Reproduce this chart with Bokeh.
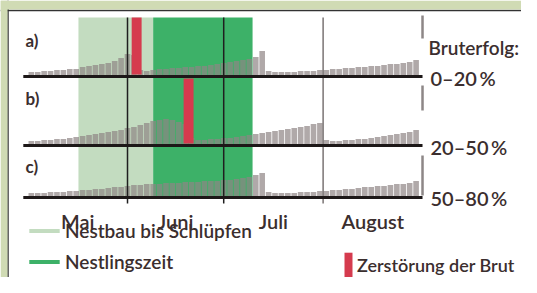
from bokeh.plotting import figure
from bokeh.models import Range1d, Label, Legend, LegendItem, Span, BoxAnnotation
from bokeh.embed import file_html
from bokeh.resources import INLINE

# ---------------- data ----------------
months = ["Mai", "Juni", "Juli", "August"]
month_start = [0, 31, 61, 92]          # day index (1 May = 0)
month_mid = [15.5, 46, 76.5, 107.5]
season_end = 123                        # 1 September

panel_names = ["a)", "b)", "c)"]
success_labels = ["0\u201320\u2009%", "20\u201350\u2009%", "50\u201380\u2009%"]

nestbau = [15.7, 39.0]     # Nestbau bis Schlüpfen (start, end day)
nestling = [39.0, 70.0]    # Nestlingszeit
destroy_start = [32.3, 48.5]
destroy_end = [35.4, 51.6]
destroy_panel = [0, 1]

activity_days = list(range(1, 122, 2))
activity_a = [3, 3, 4, 4, 5, 5, 6, 6,
              8, 9, 10, 11, 12, 14, 17,
              21, 20,
              5, 4, 5, 6, 6, 7, 7, 8, 8, 9, 9, 10, 11, 12, 13, 14, 15, 16, 18, 24,
              4, 3, 3, 3, 3, 4, 4, 4, 5,
              5, 6, 6, 7, 7, 8, 8, 9, 9, 10, 11, 11, 12, 13, 15]
activity_b = [3, 3, 4, 4, 5, 5, 6, 7, 8, 9, 10, 11, 12, 13, 14, 16, 17, 19, 21, 23, 24, 25, 24, 22, 20,
              6, 4, 4, 5, 5, 6, 6, 7, 8, 9, 10, 11, 12, 13, 14, 15, 16, 17, 18, 20, 21,
              4, 3, 3, 4, 4, 5, 5, 6, 7, 8, 9, 10, 11, 12, 14]
activity_c = [3, 3, 3, 4, 4, 4, 5, 5, 6, 6, 7, 7, 8, 9, 9, 10, 11, 11, 12, 12, 12, 13, 13, 13, 14,
              14, 14, 15, 15, 15, 16, 16, 17, 18, 19, 21, 23,
              4, 3, 3, 3, 3, 4, 4, 4, 5, 5, 6, 6, 7, 7, 8, 9, 9, 10, 10, 11, 12, 12, 13, 15]
activities = [activity_a, activity_b, activity_c]

# ---------------- layout (pixel-like units, y up) ----------------
W, H = 521, 277
X0, X1 = -8.61, 153.87
baseline_y = [201, 132, 80]
band_top = 260
red_top = [260, 199]
red_bottom = [203, 134]
end_tick = [(239, 262), (167, 192), (82, 122)]
label_y = [237, 179, 111]
success_y = [200, 131, 80]

TEXT = "#3b2e2e"
LIGHT = "#c3dcc0"
DARK = "#3db168"
RED = "#d53b4e"
NOISE = "#8e8585"
OUTER = "#d0dbb4"
FONT = "Lato Semibold, Lato"

p = figure(width=W, height=H, x_range=Range1d(X0, X1), y_range=Range1d(0, H),
           output_backend="svg", toolbar_location=None,
           x_axis_location=None, y_axis_location=None)
p.min_border = 0
p.grid.visible = False
p.outline_line_color = None
p.background_fill_color = "white"
p.border_fill_color = "white"

# outer frame: dark border + light green surround
p.add_layout(Span(location=267, dimension="width", line_color="#333333", line_width=1.5))
p.add_layout(Span(location=X0 + 7.5 / 3.2065, dimension="height", line_color="#333333", line_width=1.5))
p.add_layout(BoxAnnotation(bottom=268, fill_color=OUTER, fill_alpha=1, line_alpha=0))
p.add_layout(BoxAnnotation(right=X0 + 7 / 3.2065, fill_color=OUTER, fill_alpha=1, line_alpha=0))

# phase bands
r_light = p.quad(left=[nestbau[0]], right=[nestbau[1]], bottom=baseline_y[2], top=band_top,
                 fill_color=LIGHT, line_color=None)
r_dark = p.quad(left=[nestling[0]], right=[nestling[1]], bottom=baseline_y[2], top=band_top,
                fill_color=DARK, line_color=None)

# activity texture
for base, act in zip(baseline_y, activities):
    p.vbar(x=activity_days, width=1.75, bottom=base + 1.5, top=[base + 1.5 + h for h in act],
           fill_color=NOISE, fill_alpha=0.7, line_color=None)

# destruction bars
r_red = p.quad(left=destroy_start, right=destroy_end,
               bottom=[red_bottom[i] for i in destroy_panel], top=[red_top[i] for i in destroy_panel],
               fill_color=RED, line_color=None)

# month lines
p.segment(x0=month_start[1:3], x1=month_start[1:3], y0=74, y1=band_top, line_color="#1f1f1f", line_width=1.5)
p.segment(x0=[month_start[3]], x1=[month_start[3]], y0=74, y1=band_top, line_color="#7a7474", line_width=1.5)

# end ticks
p.segment(x0=[season_end] * 3, x1=[season_end] * 3, y0=[t[0] for t in end_tick], y1=[t[1] for t in end_tick],
          line_color="#8d8787", line_width=2.5)

# baselines
p.segment(x0=[month_start[0] - 1.5] * 3, x1=[season_end] * 3, y0=baseline_y, y1=baseline_y,
          line_color="#1d1818", line_width=3)

# month labels
p.text(x=month_mid, y=[57] * 4, text=months, text_align="center", text_baseline="alphabetic",
       text_font={"value": FONT}, text_font_size="20px", text_color=TEXT)

# panel labels
for name, y in zip(panel_names, label_y):
    p.add_layout(Label(x=25, y=y, x_units="screen", text=name, text_font="Lato", text_font_size="17px",
                       text_font_style="bold", text_color=TEXT, text_baseline="alphabetic"))

p.add_layout(Label(x=428, y=230, x_units="screen", text="Bruterfolg:", text_font=FONT,
                   text_font_size="19px", text_color=TEXT, text_baseline="alphabetic"))
for t, y in zip(success_labels, success_y):
    p.add_layout(Label(x=430, y=y, x_units="screen", text=t, text_font=FONT,
                       text_font_size="20px", text_color=TEXT, text_baseline="alphabetic"))

# legends
common = dict(padding=0, margin=0, label_text_font=FONT,
              label_text_color=TEXT, background_fill_alpha=0, border_line_alpha=0)
leg1 = Legend(items=[LegendItem(label="Nestbau bis Schlüpfen", renderers=[r_light]),
                     LegendItem(label="Nestlingszeit", renderers=[r_dark])],
              location=(25, 4), glyph_width=38, glyph_height=5, label_height=24, spacing=7,
              label_standoff=2, label_text_font_size="19px", **common)
leg2 = Legend(items=[LegendItem(label="Zerstörung der Brut", renderers=[r_red])],
              location=(343, -4), glyph_width=10, glyph_height=32, spacing=0,
              label_standoff=4, label_text_font_size="18px", **common)
p.add_layout(leg1)
p.add_layout(leg2)

open("out.html", "w").write(file_html(p, INLINE))
